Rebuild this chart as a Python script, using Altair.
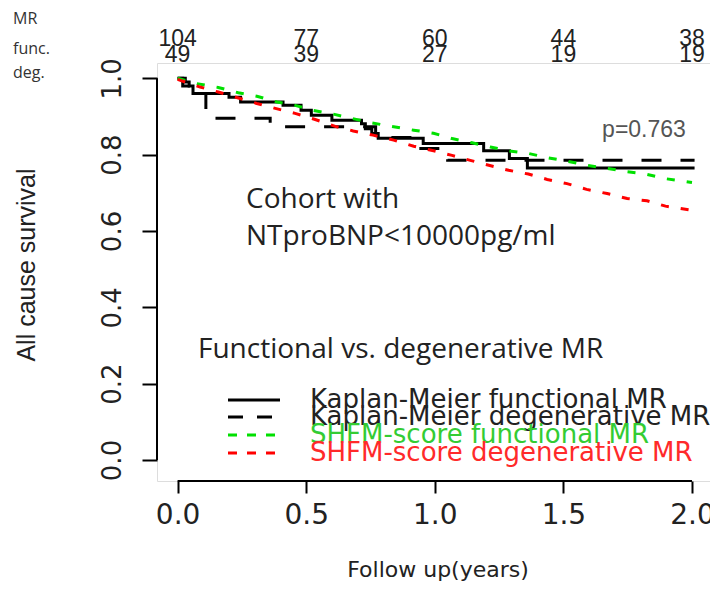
import altair as alt
import pandas as pd

# ---------------- data ----------------
# Kaplan-Meier functional MR (solid black)
km_func_t = [0.0, 0.03, 0.045, 0.06, 0.20, 0.245, 0.41, 0.48, 0.52, 0.60, 0.715, 0.73, 0.755, 0.78, 0.955, 1.19, 1.29, 1.36, 2.01]
km_func_s = [1.0, 0.99, 0.98, 0.96, 0.95, 0.938, 0.929, 0.916, 0.903, 0.89, 0.881, 0.868, 0.855, 0.843, 0.829, 0.81, 0.79, 0.765, 0.765]

# Kaplan-Meier degenerative MR (dashed black)
km_deg_t = [0.0, 0.02, 0.05, 0.11, 0.36, 0.77, 0.92, 1.05, 2.01]
km_deg_s = [1.0, 0.98, 0.96, 0.895, 0.873, 0.845, 0.816, 0.785, 0.785]

# SHFM-score functional MR (green dotted)
shfm_func_t = [0.0, 0.075, 0.158, 0.236, 0.308, 0.386, 0.457, 0.527, 0.606, 0.69, 0.757, 0.84, 0.918, 0.995,
               1.067, 1.145, 1.216, 1.287, 1.365, 1.437, 1.514, 1.592, 1.67, 1.748, 1.82, 1.897, 2.0]
shfm_func_s = [1.0, 0.986, 0.976, 0.962, 0.953, 0.938, 0.929, 0.916, 0.906, 0.893, 0.883, 0.873, 0.864, 0.856,
               0.842, 0.831, 0.82, 0.81, 0.803, 0.792, 0.783, 0.772, 0.764, 0.755, 0.749, 0.737, 0.727]

# SHFM-score degenerative MR (red dotted)
shfm_deg_t = [0.0, 0.088, 0.158, 0.243, 0.308, 0.38, 0.457, 0.535, 0.613, 0.683, 0.76, 0.84, 0.918, 0.995,
              1.067, 1.138, 1.21, 1.287, 1.364, 1.437, 1.514, 1.59, 1.67, 1.748, 1.825, 1.897, 2.0]
shfm_deg_s = [0.997, 0.977, 0.964, 0.947, 0.934, 0.921, 0.908, 0.892, 0.874, 0.862, 0.851, 0.838, 0.822, 0.81,
              0.798, 0.785, 0.772, 0.759, 0.749, 0.735, 0.724, 0.709, 0.698, 0.685, 0.679, 0.665, 0.654]

# numbers at risk
risk_times = [0.0, 0.5, 1.0, 1.5, 2.0]
risk_func = ["104", "77", "60", "44", "38"]
risk_deg = ["49", "39", "27", "19", "19"]

x_ticks = [0.0, 0.5, 1.0, 1.5, 2.0]
y_ticks = [0.0, 0.2, 0.4, 0.6, 0.8, 1.0]

legend_labels = ["Kaplan-Meier functional MR", "Kaplan-Meier degenerative MR",
                 "SHFM-score functional MR", "SHFM-score degenerative MR"]
legend_colors = ["#222222", "#222222", "#33cc33", "#ff2a2a"]
legend_line_colors = ["#000000", "#000000", "#00e000", "#ff0000"]
legend_dash = [[1, 0], [15, 14], [9, 10], [9, 10]]

# ---------------- layout ----------------
W, H = 553, 418
xs = alt.Scale(domain=[-0.08, 2.07], nice=False, zero=False)
ys = alt.Scale(domain=[-0.055, 1.04], nice=False, zero=False)
AX = "DejaVu Sans"
CAL = "Open Sans"

def series(t, s):
    return pd.DataFrame({"t": t, "s": s})

xenc = alt.X("t:Q", scale=xs,
             axis=alt.Axis(values=x_ticks, format=".1f", domain=False, grid=False, title=None,
                           tickSize=12, tickWidth=2, tickColor="black",
                           labelFont=AX, labelFontSize=28, labelColor="#222222", labelPadding=8,
                           labelFlush=False, labelOverlap=False))
yenc = alt.Y("s:Q", scale=ys,
             axis=alt.Axis(values=y_ticks, format=".1f", domain=False, grid=False, title=None,
                           tickSize=15, tickWidth=2, tickColor="black",
                           labelFont=AX, labelFontSize=26, labelColor="#222222",
                           labelAngle=270, labelAlign="center", labelBaseline="alphabetic",
                           labelPadding=22, labelOverlap=False))

km_func = alt.Chart(series(km_func_t, km_func_s)).mark_line(
    interpolate="step-after", color="black", strokeWidth=3).encode(x=xenc, y=yenc)
km_deg = alt.Chart(series(km_deg_t, km_deg_s)).mark_line(
    interpolate="step-after", color="black", strokeWidth=3, strokeDash=[20, 19]).encode(
    x=alt.X("t:Q", scale=xs), y=alt.Y("s:Q", scale=ys))
sh_func = alt.Chart(series(shfm_func_t, shfm_func_s)).mark_line(
    color="#00e000", strokeWidth=3, strokeDash=[8, 12]).encode(
    x=alt.X("t:Q", scale=xs), y=alt.Y("s:Q", scale=ys))
sh_deg = alt.Chart(series(shfm_deg_t, shfm_deg_s)).mark_line(
    color="#ff0000", strokeWidth=3, strokeDash=[8, 12]).encode(
    x=alt.X("t:Q", scale=xs), y=alt.Y("s:Q", scale=ys))

# axis lines (R style, only over the data range)
base = alt.Chart(pd.DataFrame({"a": [0]}))
x_line = base.mark_rule(color="black", strokeWidth=2).encode(
    x=alt.datum(0.0, scale=xs), x2=alt.datum(2.0), y=alt.value(H))
y_line = base.mark_rule(color="black", strokeWidth=2).encode(
    y=alt.datum(0.0, scale=ys), y2=alt.datum(1.0), x=alt.value(0))

# numbers at risk
risk_df = pd.DataFrame({"t": risk_times, "func": risk_func, "deg": risk_deg})
risk1 = alt.Chart(risk_df).mark_text(font="Liberation Sans", fontSize=23, color="#222222",
                                     baseline="alphabetic", align="center").encode(
    x=alt.X("t:Q", scale=xs), y=alt.value(-17), text="func:N")
risk2 = alt.Chart(risk_df).mark_text(font="Liberation Sans", fontSize=23, color="#222222",
                                     baseline="alphabetic", align="center").encode(
    x=alt.X("t:Q", scale=xs), y=alt.value(-1), text="deg:N")

def label(txt, x, y, size, font, color="#222222", align="left", baseline="alphabetic", angle=0):
    kw = dict(text=txt, font=font, fontSize=size, color=color, align=align, baseline=baseline)
    if angle:
        kw["angle"] = angle
    return base.mark_text(**kw).encode(x=alt.value(x), y=alt.value(y))

left_labels = [
    label("MR", -144, -39, 16, CAL, "#333333"),
    label("func.", -144, -9, 16, CAL, "#333333"),
    label("deg.", -144, 15, 16, CAL, "#333333"),
]
annots = [
    label("p=0.763", 487, 74, 23, "Liberation Sans", "#555555", align="center"),
    label("Cohort with", 89, 145, 28, CAL),
    label("NTproBNP<10000pg/ml", 89, 182, 28, CAL),
    label("Functional vs. degenerative MR", 41, 295, 28, CAL),
    label("All cause survival", -122, 202, 25, "Liberation Sans", align="center", angle=270),
    label("Follow up(years)", 281, 514, 22, AX, align="center"),
]

# legend
leg_rows = [337, 354, 372, 390]
leg = []
for lab, tc, lc, dash, ry in zip(legend_labels, legend_colors, legend_line_colors, legend_dash, leg_rows):
    leg.append(base.mark_rule(color=lc, strokeWidth=3, strokeDash=dash).encode(
        x=alt.value(71), x2=alt.value(123), y=alt.value(ry)))
    leg.append(label(lab, 153, ry, 26, AX, tc, baseline="middle"))

chart = alt.layer(km_func, km_deg, sh_func, sh_deg, x_line, y_line, risk1, risk2,
                  *left_labels, *annots, *leg).properties(
    width=W, height=H,
    autosize=alt.AutoSizeParams(type="none"),
    padding={"left": 149, "top": 55, "right": 0, "bottom": 102},
).configure_view(strokeWidth=0).configure(background="white")

chart.save("out.html", embed_options={"renderer": "svg", "actions": False})
